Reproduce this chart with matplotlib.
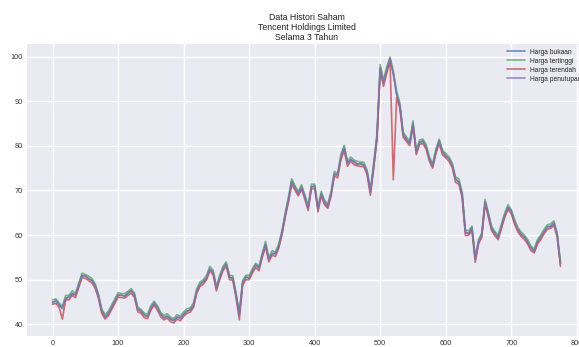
import numpy as np
import matplotlib
matplotlib.use("Agg")
import matplotlib.pyplot as plt

plt.style.use("seaborn-v0_8")
plt.rcParams["font.family"] = ["Liberation Sans", "DejaVu Sans"]

# Trading-day index (every 5th session) and daily prices in HKD
hari = np.arange(0, 776, 5)

harga_penutupan = [
    45.0, 45.2, 44.3, 43.5, 46.0, 46.0, 47.0, 46.5, 48.8, 51.0,
    50.8, 50.3, 49.8, 48.6, 46.3, 43.0, 41.7, 42.4, 43.8, 45.2,
    46.6, 46.5, 46.4, 47.0, 47.5, 46.5, 43.3, 43.0, 42.0, 41.8,
    43.7, 44.8, 43.7, 42.2, 41.5, 41.9, 41.1, 40.8, 41.7, 41.3,
    42.3, 43.0, 43.2, 44.3, 47.5, 49.0, 49.5, 50.5, 52.5, 51.6,
    48.0, 50.5, 52.5, 53.5, 50.5, 50.4, 46.5, 42.0, 49.3, 50.5,
    50.5, 52.0, 53.2, 52.5, 55.5, 58.0, 54.5, 56.0, 55.7, 57.5,
    60.5, 64.5, 68.0, 72.0, 70.5, 69.3, 70.8, 68.5, 66.0, 70.9,
    70.9, 65.7, 69.3, 67.3, 66.5, 69.3, 73.8, 73.3, 77.5, 79.5,
    76.0, 77.0, 76.3, 76.0, 75.9, 75.8, 74.0, 69.5, 75.5, 82.0,
    97.5, 94.0, 97.0, 99.5, 96.0, 91.5, 89.0, 82.5, 81.5, 80.5,
    85.0, 78.5, 80.8, 81.0, 79.8, 77.0, 75.5, 78.8, 81.0, 78.5,
    77.8, 77.0, 75.6, 72.4, 72.0, 69.0, 60.5, 60.5, 61.5, 54.5,
    58.5, 60.0, 67.5, 64.5, 61.5, 60.3, 59.5, 62.0, 64.5, 66.3,
    65.2, 63.0, 61.2, 60.2, 59.5, 58.5, 57.0, 56.5, 58.5, 59.5,
    60.8, 61.8, 62.0, 62.7, 60.0, 53.5,
]

harga_bukaan = [
    44.8, 45.4, 44.5, 43.7, 45.8, 46.2, 46.8, 46.7, 48.6, 50.9,
    50.9, 50.2, 49.9, 48.8, 46.5, 43.2, 41.6, 42.3, 43.6, 45.1,
    46.5, 46.6, 46.3, 46.9, 47.6, 46.7, 43.5, 42.9, 42.2, 41.7,
    43.5, 44.7, 43.9, 42.4, 41.4, 41.8, 41.3, 40.9, 41.6, 41.5,
    42.1, 42.9, 43.3, 44.1, 47.3, 48.9, 49.6, 50.3, 52.3, 51.8,
    48.2, 50.3, 52.4, 53.6, 50.7, 50.2, 46.7, 42.4, 49.1, 50.7,
    50.3, 51.9, 53.4, 52.7, 55.3, 57.8, 54.7, 55.8, 55.9, 57.3,
    60.3, 64.3, 67.8, 72.2, 70.7, 69.1, 70.6, 68.7, 66.2, 70.7,
    71.1, 65.9, 69.1, 67.5, 66.3, 69.1, 73.6, 73.5, 77.3, 79.7,
    76.2, 76.8, 76.5, 75.8, 76.1, 75.6, 74.2, 69.7, 75.3, 81.8,
    97.2, 94.3, 96.8, 99.3, 96.2, 91.7, 88.8, 82.7, 81.3, 80.7,
    84.8, 78.7, 80.6, 81.2, 79.6, 77.2, 75.3, 78.6, 81.2, 78.7,
    77.6, 77.2, 75.4, 72.6, 71.8, 69.2, 60.7, 60.3, 61.7, 54.7,
    58.3, 60.2, 67.3, 64.7, 61.3, 60.5, 59.3, 61.8, 64.3, 66.1,
    65.4, 62.8, 61.4, 60.0, 59.7, 58.3, 57.2, 56.3, 58.3, 59.7,
    60.6, 62.0, 61.8, 62.8, 60.2, 53.7,
]

harga_tertinggi = [
    45.5, 45.7, 44.8, 44.0, 46.5, 46.5, 47.5, 47.0, 49.3, 51.5,
    51.2, 50.8, 50.3, 49.1, 46.8, 43.5, 42.2, 42.9, 44.3, 45.7,
    47.1, 46.9, 46.9, 47.4, 48.0, 47.0, 43.8, 43.4, 42.5, 42.3,
    44.2, 45.2, 44.2, 42.7, 42.0, 42.4, 41.6, 41.3, 42.2, 41.8,
    42.8, 43.5, 43.7, 44.8, 48.0, 49.5, 50.0, 51.0, 53.0, 52.1,
    48.5, 51.0, 53.0, 54.0, 51.0, 50.9, 47.0, 42.6, 49.8, 51.0,
    51.0, 52.5, 53.7, 53.0, 56.0, 58.6, 55.0, 56.5, 56.2, 58.0,
    61.0, 65.0, 68.6, 72.6, 71.0, 69.8, 71.3, 69.0, 66.5, 71.4,
    71.4, 66.2, 69.8, 67.8, 67.0, 69.8, 74.3, 73.8, 78.1, 80.1,
    76.6, 77.5, 76.8, 76.5, 76.4, 76.3, 74.5, 70.1, 76.1, 82.7,
    98.2, 94.7, 97.7, 99.9, 96.7, 92.2, 89.6, 83.1, 82.0, 81.0,
    85.6, 79.0, 81.3, 81.5, 80.3, 77.5, 76.0, 79.3, 81.5, 79.0,
    78.3, 77.5, 76.1, 73.0, 72.6, 69.6, 61.1, 61.0, 62.0, 55.1,
    59.0, 60.5, 68.0, 65.0, 62.0, 60.8, 60.0, 62.5, 65.0, 66.8,
    65.7, 63.5, 61.7, 60.7, 60.0, 59.0, 57.5, 57.0, 59.0, 60.0,
    61.3, 62.3, 62.5, 63.2, 60.5, 54.0,
]

harga_terendah = [
    44.5, 44.7, 43.8, 41.2, 45.5, 45.5, 46.5, 46.0, 48.3, 50.5,
    50.3, 49.8, 49.3, 48.1, 45.8, 42.5, 41.2, 41.9, 43.3, 44.7,
    46.1, 46.0, 45.9, 46.5, 47.0, 46.0, 42.8, 42.5, 41.5, 41.3,
    43.2, 44.3, 43.2, 41.7, 41.0, 41.4, 40.6, 40.3, 41.2, 40.8,
    41.8, 42.5, 42.7, 43.8, 47.0, 48.5, 49.0, 50.0, 52.0, 51.1,
    47.5, 50.0, 52.0, 53.0, 50.0, 49.9, 46.0, 41.0, 48.8, 50.0,
    50.0, 51.5, 52.7, 52.0, 55.0, 57.4, 54.0, 55.5, 55.2, 57.0,
    60.0, 64.0, 67.4, 71.4, 70.0, 68.8, 70.3, 68.0, 65.5, 70.4,
    70.4, 65.2, 68.8, 66.8, 66.0, 68.8, 73.3, 72.8, 76.9, 78.9,
    75.4, 76.5, 75.8, 75.5, 75.4, 75.3, 73.5, 68.9, 74.9, 81.3,
    96.8, 93.3, 96.3, 99.0, 72.4, 90.8, 88.4, 81.9, 81.0, 80.0,
    84.4, 78.0, 80.3, 80.5, 79.3, 76.5, 75.0, 78.3, 80.5, 78.0,
    77.3, 76.5, 75.1, 71.8, 71.4, 68.4, 59.9, 60.0, 61.0, 53.9,
    58.0, 59.5, 67.0, 64.0, 61.0, 59.8, 59.0, 61.5, 64.0, 65.8,
    64.7, 62.5, 60.7, 59.7, 59.0, 58.0, 56.5, 56.0, 58.0, 59.0,
    60.3, 61.3, 61.5, 62.2, 59.5, 53.0,
]

W, H = 579, 347
fig = plt.figure(figsize=(W / 100, H / 100), dpi=100)
# the plotting area runs a little past the right edge of the canvas
ax = fig.add_axes([27 / W, (H - 336) / H, (586 - 27) / W, (336 - 44) / H])

seri = [
    (harga_bukaan, "Harga bukaan", "#4C72B0"),
    (harga_tertinggi, "Harga tertinggi", "#55A868"),
    (harga_terendah, "Harga terendah", "#C44E52"),
    (harga_penutupan, "Harga penutupan", "#8172B2"),
]
for nilai, nama, warna in seri:
    ax.plot(hari, nilai, color=warna, lw=1.2, alpha=0.8, label=nama)

ax.set_xlim(-39, 814)
ax.set_ylim(37.4, 102.8)
ax.set_xticks(range(0, 801, 100))
ax.set_yticks(range(40, 101, 10))
ax.tick_params(labelsize=5.3, pad=3, colors="#333333")

ax.set_title("Data Histori Saham\nTencent Holdings Limited\nSelama 3 Tahun",
             fontsize=6.3, pad=3, color="#222222", linespacing=1.15)

ax.legend(loc="upper right", fontsize=4.8, frameon=False, handlelength=2.6,
          labelspacing=0.3, borderaxespad=0.3)

fig.savefig("out.png", dpi=100)
